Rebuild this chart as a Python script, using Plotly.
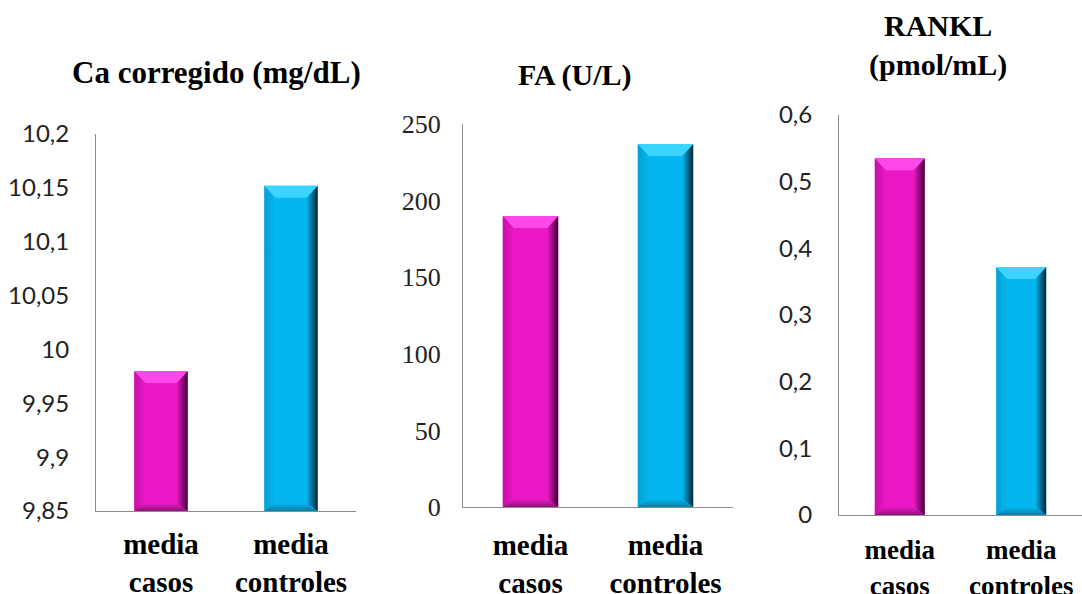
import plotly.graph_objects as go

# ---- data -------------------------------------------------------------
categories = ["media<br>casos", "media<br>controles"]

ca_title = "Ca corregido (mg/dL)"
ca_values = [9.98, 10.152]
ca_ticks = [9.85, 9.9, 9.95, 10.0, 10.05, 10.1, 10.15, 10.2]
ca_ticktext = ["9,85", "9,9", "9,95", "10", "10,05", "10,1", "10,15", "10,2"]

fa_title = "FA (U/L)"
fa_values = [190, 237]
fa_ticks = [0, 50, 100, 150, 200, 250]
fa_ticktext = ["0", "50", "100", "150", "200", "250"]

rankl_title = "RANKL<br>(pmol/mL)"
rankl_values = [0.535, 0.372]
rankl_ticks = [0, 0.1, 0.2, 0.3, 0.4, 0.5, 0.6]
rankl_ticktext = ["0", "0,1", "0,2", "0,3", "0,4", "0,5", "0,6"]

# ---- styling ----------------------------------------------------------
FIG_W, FIG_H = 1082, 594
BAR_W = 0.41
AXIS_COLOR = "#8c8c8c"
SERIF = "Liberation Serif"
SANS = "Lato"

PALETTES = [
    # base, top bevel, right shade, bottom shade, left shade
    dict(base="#ec18c6", top="#ff48ea", dark="#3e0033", bottom="#8a1477", left="#c410a3"),
    dict(base="#04b6ef", top="#3ad4ff", dark="#002435", bottom="#0a7ca4", left="#069fd2"),
]

panels = [
    dict(title=ca_title, values=ca_values, ticks=ca_ticks, ticktext=ca_ticktext,
         box=(96, 134, 356, 511), tickfont=dict(family=SANS, size=24, color="#222"),
         ystand=21, xfont=29, xstand=7, title_xy=(216, 72), title_size=31),
    dict(title=fa_title, values=fa_values, ticks=fa_ticks, ticktext=fa_ticktext,
         box=(463, 124, 733, 507), tickfont=dict(family=SERIF, size=26, color="#222"),
         ystand=16, xfont=29, xstand=12, title_xy=(575, 75), title_size=30),
    dict(title=rankl_title, values=rankl_values, ticks=rankl_ticks, ticktext=rankl_ticktext,
         box=(839, 115, 1082, 515), tickfont=dict(family=SANS, size=24, color="#222"),
         ystand=21, xfont=27, xstand=11, title_xy=(938, 45), title_size=30),
]

fig = go.Figure()


def poly(fig, xa, ya, xs, ys, colors, direction):
    """Filled polygon with a linear gradient (used for the bevel facets)."""
    fig.add_trace(go.Scatter(
        x=xs + [xs[0]], y=ys + [ys[0]], xaxis=xa, yaxis=ya,
        mode="lines", line=dict(width=0), fill="toself",
        fillgradient=dict(type=direction,
                          colorscale=[[0, colors[0]], [1, colors[1]]]),
        hoverinfo="skip", showlegend=False,
    ))


for k, p in enumerate(panels):
    n = "" if k == 0 else str(k + 1)
    xa, ya = "x" + n, "y" + n
    x0px, y0px, x1px, y1px = p["box"]
    lo, hi = p["ticks"][0], p["ticks"][-1]

    fig.add_trace(go.Bar(
        x=[0, 1], y=[v - lo for v in p["values"]], base=lo, width=BAR_W,
        marker=dict(color=[PALETTES[0]["base"], PALETTES[1]["base"]], line=dict(width=0)),
        xaxis=xa, yaxis=ya, showlegend=False, hoverinfo="skip",
    ))

    # bevel facets, sized in pixels and converted to axis units
    W, H = x1px - x0px, y1px - y0px
    ux = 2.0 / W
    uy = (hi - lo) / H
    d = 11 * ux
    ht = 12 * uy
    hb = 8 * uy
    for i, v in enumerate(p["values"]):
        c = PALETTES[i]
        a, b = i - BAR_W / 2, i + BAR_W / 2
        # right side: darkens toward the edge
        poly(fig, xa, ya, [b - d, b, b, b - d], [v - ht, v, lo, lo + hb],
             [c["base"], c["dark"]], "horizontal")
        # left side
        poly(fig, xa, ya, [a, a + d, a + d, a], [v, v - ht, lo + hb, lo],
             [c["left"], c["base"]], "horizontal")
        # top facet
        poly(fig, xa, ya, [a, b, b - d, a + d], [v, v, v - ht, v - ht],
             [c["top"], c["top"]], "vertical")
        # bottom facet
        poly(fig, xa, ya, [a, b, b - d, a + d], [lo, lo, lo + hb, lo + hb],
             [c["bottom"], c["base"]], "vertical")

    dom_x = [x0px / FIG_W, x1px / FIG_W]
    dom_y = [(FIG_H - y1px) / FIG_H, (FIG_H - y0px) / FIG_H]
    fig.update_layout(**{
        "xaxis" + n: dict(
            domain=dom_x, range=[-0.5, 1.5], anchor=ya, automargin=False,
            tickvals=[0, 1], ticktext=categories, ticks="",
            tickfont=dict(family=SERIF, size=p["xfont"], color="#000", weight="bold"),
            ticklabelstandoff=p["xstand"],
            showline=True, linecolor=AXIS_COLOR, linewidth=1,
            showgrid=False, zeroline=False, fixedrange=True,
        ),
        "yaxis" + n: dict(
            domain=dom_y, range=[lo, hi], anchor=xa, automargin=False,
            tickvals=p["ticks"], ticktext=p["ticktext"], ticks="",
            tickfont=p["tickfont"], ticklabelstandoff=p["ystand"],
            showline=True, linecolor=AXIS_COLOR, linewidth=1,
            showgrid=False, zeroline=False, fixedrange=True,
        ),
    })

    tx, ty = p["title_xy"]
    fig.add_annotation(
        text=p["title"], xref="paper", yref="paper",
        x=tx / FIG_W, y=1 - ty / FIG_H, xanchor="center", yanchor="middle",
        showarrow=False,
        font=dict(family=SERIF, size=p["title_size"], color="#000", weight="bold"),
    )

fig.update_layout(
    template="none",
    width=FIG_W, height=FIG_H, autosize=False,
    margin=dict(l=0, r=0, t=0, b=0, autoexpand=False),
    paper_bgcolor="white", plot_bgcolor="white",
    barmode="overlay",
)

fig.write_html("out.html")
